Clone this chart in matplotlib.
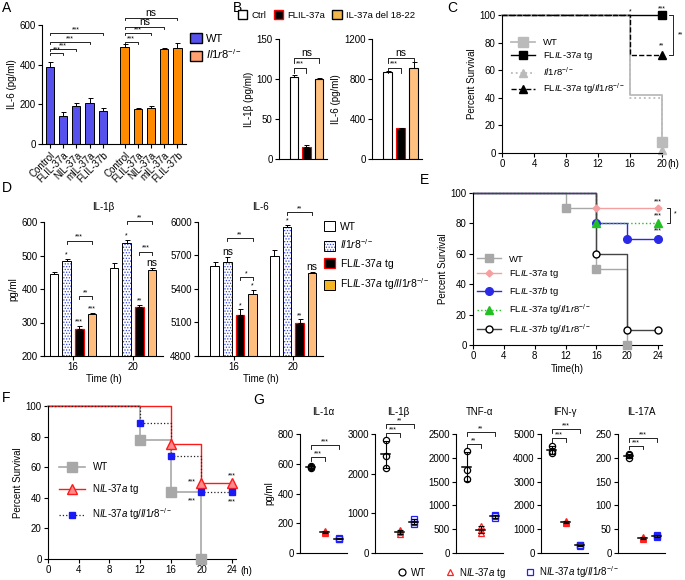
import numpy as np
import matplotlib
matplotlib.use('Agg')
import matplotlib.pyplot as plt
from matplotlib.patches import Patch
from matplotlib.lines import Line2D

# ---------------- data ----------------
# A: IL-6 by construct
a_labels = ['Control', 'FLIL-37a', 'NIL-37a', 'mIL-37a', 'FLIL-37b']
a_wt = [390, 140, 190, 205, 168]
a_wt_err = [25, 20, 15, 25, 12]
a_ko = [490, 175, 180, 480, 485]
a_ko_err = [12, 8, 12, 4, 25]

# B
b_groups = ['Ctrl', 'FLIL-37a', 'IL-37a del 18-22']
b_il1b = [103, 15, 100]
b_il1b_err = [2.5, 2.5, 1]
b_il6 = [870, 305, 910]
b_il6_err = [8, 8, 60]

# C survival
c_wt_t, c_wt_s = [0, 16, 20], [100, 42, 8]
c_fl_t, c_fl_s = [0, 20], [100, 100]
c_ko_t, c_ko_s = [0, 16, 20], [100, 40, 2]
c_flko_t, c_flko_s = [0, 16, 20], [100, 71, 71]

# D
d_times = ['16', '20']
d_il1b_wt, d_il1b_wt_err = [444, 464], [6, 15]
d_il1b_ko, d_il1b_ko_err = [485, 537], [4, 8]
d_il1b_fl, d_il1b_fl_err = [282, 347], [7, 4]
d_il1b_flko, d_il1b_flko_err = [325, 456], [3, 6]
d_il6_wt, d_il6_wt_err = [5606, 5695], [40, 55]
d_il6_ko, d_il6_ko_err = [5642, 5955], [45, 20]
d_il6_fl, d_il6_fl_err = [5167, 5095], [50, 35]
d_il6_flko, d_il6_flko_err = [5355, 5543], [38, 8]

# E survival
e_wt_t, e_wt_s = [0, 12, 16, 20], [100, 90, 50, 0]
e_fla_t, e_fla_s = [0, 16, 24], [100, 90, 90]
e_flb_t, e_flb_s = [0, 16, 20, 24], [100, 80, 70, 70]
e_flako_t, e_flako_s = [0, 16, 24], [100, 80, 80]
e_flbko_t, e_flbko_s = [0, 16, 20, 24], [100, 60, 10, 10]

# F survival
f_wt_t, f_wt_s = [0, 12, 16, 20], [100, 78, 44, 0]
f_nil_t, f_nil_s = [0, 16, 20, 24], [100, 75, 50, 50]
f_nilko_t, f_nilko_s = [0, 12, 16, 20, 24], [100, 89, 67, 44, 44]

# G cytokines (3 mice per group)
g_titles = ['IL-1α', 'IL-1β', 'TNF-α', 'IFN-γ', 'IL-17A']
g_top = [800, 3000, 2500, 5000, 250]
g_step = [200, 1000, 500, 1000, 50]
g_wt = [[575, 582, 570], [2850, 2150, 2450], [2150, 1550, 1750], [4500, 4200, 4300], [207, 200, 205]]
g_nil = [[140, 135, 145], [580, 470, 540], [560, 420, 490], [1300, 1270, 1340], [31, 29, 33]]
g_nilko = [[95, 100, 92], [860, 720, 790], [800, 740, 770], [330, 300, 320], [36, 33, 38]]
g_br = [[645, 726], [3025, 3250], [2290, 2540], [4830, 5210], [225, 241]]
g_br_txt = [['***', '***'], ['***', '**'], ['**', '**'], ['***', '***'], ['***', '***']]

# ---------------- style ----------------
plt.rcParams['font.family'] = ['Liberation Sans', 'DejaVu Sans']
plt.rcParams['font.size'] = 7
plt.rcParams['axes.linewidth'] = 0.8
plt.rcParams['mathtext.fontset'] = 'custom'
plt.rcParams['mathtext.rm'] = 'Liberation Sans'
plt.rcParams['mathtext.it'] = 'Liberation Sans:italic'
plt.rcParams['hatch.linewidth'] = 0.6

KO = r'$\mathit{Il1r8}^{-/-}$'
FLA = r'FL$\mathit{IL}$-$\mathit{37a}$ tg'
FLB = r'FL$\mathit{IL}$-$\mathit{37b}$ tg'
NIL = r'N$\mathit{IL}$-$\mathit{37a}$ tg'

W, H = 685, 580
fig = plt.figure(figsize=(W / 100, H / 100), dpi=100)


def add_ax(l, t, r, b):
    return fig.add_axes([l / W, 1 - b / H, (r - l) / W, (b - t) / H])


def style(ax, fs=7):
    ax.spines['top'].set_visible(False)
    ax.spines['right'].set_visible(False)
    ax.tick_params(width=0.8, length=3, labelsize=fs, pad=1.5)


def bracket(ax, x1, x2, y, h, txt, fs=5):
    ax.plot([x1, x1, x2, x2], [y - h, y, y, y - h], color='k', lw=0.6, clip_on=False)
    if txt == 'ns':
        fs = 7.5
    ax.text((x1 + x2) / 2, y, txt, ha='center', va='bottom', fontsize=fs, clip_on=False)


def star(ax, x, y, txt, fs=5):
    if txt == 'ns':
        fs = 7.5
    ax.text(x, y, txt, ha='center', va='bottom', fontsize=fs, clip_on=False)


def panel(x, y, s):
    fig.text(x / W, 1 - y / H, s, fontsize=10, ha='left', va='top')


def up_err(ax, x, v, e):
    ax.errorbar(x, v, yerr=[np.zeros(len(e)), e], fmt='none', ecolor='k',
                elinewidth=0.7, capsize=1.8, capthick=0.7, clip_on=False)


# ---------------- A ----------------
blue_a, orange_a = '#5650EC', '#FF8A00'
ax = add_ax(42, 25, 186, 144)
style(ax)
pw = np.arange(5)
pk = np.arange(5) + 5.65
ax.bar(pw, a_wt, 0.62, color=blue_a, edgecolor='k', lw=0.7)
ax.bar(pk, a_ko, 0.62, color=orange_a, edgecolor='k', lw=0.7)
up_err(ax, pw, a_wt, a_wt_err)
up_err(ax, pk, a_ko, a_ko_err)
ax.set_xlim(-0.6, 10.3)
ax.set_ylim(0, 600)
ax.set_yticks([0, 200, 400, 600])
ax.set_xticks(np.r_[pw, pk])
ax.set_xticklabels(a_labels * 2, rotation=45, ha='right', rotation_mode='anchor')
ax.set_ylabel('IL-6 (pg/ml)', labelpad=2)
for i, y in zip([1, 2, 3, 4], [457, 479, 514, 558]):
    bracket(ax, pw[0], pw[i], y, 10, '***')
for i, y, t in zip([1, 2, 3, 4], [513, 558, 591, 634], ['***', '***', 'ns', 'ns']):
    bracket(ax, pk[0], pk[i], y, 10, t)
ax.legend([Patch(fc=blue_a, ec='k'), Patch(fc='#FFA070', ec='k')], ['WT', KO],
          loc='upper left', bbox_to_anchor=(1.0, 0.97), frameon=False, fontsize=8,
          handlelength=1.0, handleheight=1.0, handletextpad=0.4, labelspacing=0.35,
          borderaxespad=0)

# ---------------- B ----------------
b_fc = ['white', 'black', '#FFC080']
b_ec = ['k', 'red', 'k']
for (l, r), vals, errs, top, step, yl in [((279, 327), b_il1b, b_il1b_err, 150, 50, 'IL-1β (pg/ml)'),
                                          ((372, 422), b_il6, b_il6_err, 1200, 400, 'IL-6 (pg/ml)')]:
    ax = add_ax(l, 39, r, 159)
    style(ax)
    x = np.arange(3)
    ax.bar(x, vals, 0.7, color=b_fc, edgecolor=b_ec, lw=0.8)
    up_err(ax, x, vals, errs)
    ax.set_xlim(-1.2, 2.65)
    ax.set_ylim(0, top)
    ax.set_yticks(np.arange(0, top + 1, step))
    ax.set_xticks([])
    ax.set_ylabel(yl, labelpad=2)
    bracket(ax, 0, 1, top * 0.76, top * 0.04, '***')
    bracket(ax, 0, 2, top * 0.84, top * 0.04, 'ns')
fig.legend([Patch(fc='white', ec='k'), Patch(fc='black', ec='red'), Patch(fc='#F2B84B', ec='k')],
           b_groups, loc='center left', bbox_to_anchor=(238 / W, 1 - 15 / H), ncol=3,
           frameon=False, fontsize=6.8, handlelength=1.0, handleheight=1.0,
           handletextpad=0.4, columnspacing=0.8, borderaxespad=0, borderpad=0)

# ---------------- C ----------------
ax = add_ax(502, 15, 662, 153)
style(ax)
c_specs = [
    (c_wt_t, c_wt_s, '#BBBBBB', '-', 's', 7, 1.3),
    (c_fl_t, c_fl_s, 'black', '-', 's', 6, 1.0),
    (c_ko_t, c_ko_s, '#BBBBBB', ':', '^', 6, 1.3),
    (c_flko_t, c_flko_s, 'black', '--', '^', 6, 1.0),
]
handles = []
for t, s, col, ls, mk, ms, lw in c_specs:
    ax.step(t, s, where='post', color=col, ls=ls, lw=lw, clip_on=False)
    ax.plot(t[-1], s[-1], mk, color=col, ms=ms, clip_on=False)
    handles.append(Line2D([], [], color=col, ls=ls, lw=lw, marker=mk, ms=ms))
ax.set_xlim(0, 20)
ax.set_ylim(0, 100)
ax.set_xticks(np.arange(0, 21, 4))
ax.set_yticks(np.arange(0, 101, 20))
ax.set_ylabel('Percent Survival', labelpad=2)
ax.text(20.7, -0.045, '(h)', transform=ax.get_xaxis_transform(), ha='left', va='top', fontsize=7)
star(ax, 16, 100, '*')
star(ax, 20, 102, '***')
star(ax, 20, 75, '**')
ax.plot([20.9, 21.4, 21.4, 20.9], [100, 100, 71, 71], color='k', lw=0.6, clip_on=False)
ax.text(22.0, 85.5, '**', fontsize=5, ha='left', va='center')
ax.legend(handles, ['WT', FLA, KO, FLA[:-3] + ' tg/' + KO], loc='upper left',
          bbox_to_anchor=(0.03, 0.86), frameon=False, fontsize=6.8, handlelength=2.6,
          labelspacing=0.35, borderaxespad=0)

# ---------------- D ----------------
off = np.array([-1.5, -0.5, 0.5, 1.5]) * 0.212
bw = 0.145
dot_blue = '#3344DD'
d_orange = '#FFBE7D'
d_sets = [
    ((44, 163), (200, 600, 100), 'IL-1β',
     [d_il1b_wt, d_il1b_ko, d_il1b_fl, d_il1b_flko],
     [d_il1b_wt_err, d_il1b_ko_err, d_il1b_fl_err, d_il1b_flko_err], (-0.483, 1.5)),
    ((198, 323), (4800, 6000, 300), 'IL-6',
     [d_il6_wt, d_il6_ko, d_il6_fl, d_il6_flko],
     [d_il6_wt_err, d_il6_ko_err, d_il6_fl_err, d_il6_flko_err], (-0.6, 1.5)),
]
d_axes = []
for (l, r), (lo, hi, st), title, vals, errs, xl in d_sets:
    ax = add_ax(l, 222, r, 356)
    style(ax)
    g = np.arange(2)
    ax.bar(g + off[0], np.array(vals[0]) - lo, bw, bottom=lo, color='white', edgecolor='k', lw=0.7)
    ax.bar(g + off[1], np.array(vals[1]) - lo, bw, bottom=lo, color='white', edgecolor=dot_blue,
           hatch='......', lw=0)
    ax.bar(g + off[1], np.array(vals[1]) - lo, bw, bottom=lo, fill=False, edgecolor='k', lw=0.7)
    ax.bar(g + off[2], np.array(vals[2]) - lo, bw, bottom=lo, color='black', edgecolor='red', lw=0.9)
    ax.bar(g + off[3], np.array(vals[3]) - lo, bw, bottom=lo, color=d_orange, edgecolor='k', lw=0.7)
    for k in range(4):
        up_err(ax, g + off[k], vals[k], errs[k])
    ax.set_xlim(*xl)
    ax.set_ylim(lo, hi)
    ax.set_yticks(np.arange(lo, hi + 1, st))
    ax.set_xticks(g)
    ax.set_xticklabels(d_times)
    ax.set_xlabel('Time (h)', fontsize=7, labelpad=1)
    ax.set_title(title, fontsize=7, pad=9)
    d_axes.append(ax)
d_axes[0].set_ylabel('pg/ml', labelpad=2)

ax = d_axes[0]
star(ax, off[1], 490, '*')
star(ax, off[2], 291, '***')
star(ax, off[3], 330, '***')
star(ax, 1 + off[1], 547, '*')
star(ax, 1 + off[2], 353, '**')
star(ax, 1 + off[3], 463, 'ns')
bracket(ax, off[1], off[3], 544, 10, '***')
bracket(ax, off[2], off[3], 379, 10, '**')
bracket(ax, 1 + off[1], 1 + off[3], 603, 10, '**')
bracket(ax, 1 + off[2], 1 + off[3], 511, 10, '***')

ax = d_axes[1]
star(ax, off[1], 5688, 'ns')
star(ax, off[2], 5219, '*')
star(ax, off[3], 5395, '*')
star(ax, 1 + off[1], 5977, '*')
star(ax, 1 + off[2], 5132, '**')
star(ax, 1 + off[3], 5553, 'ns')
bracket(ax, off[1], off[3], 5857, 30, '**')
bracket(ax, off[2], off[3], 5507, 30, '*')
bracket(ax, 1 + off[1], 1 + off[3], 6090, 30, '**')

d_handles = [Patch(fc='white', ec='k', lw=0.7),
             (Patch(fc='white', ec=dot_blue, hatch='......', lw=0), Patch(fill=False, ec='k', lw=0.7)),
             Patch(fc='black', ec='red', lw=0.9),
             Patch(fc='#F5B520', ec='k', lw=0.7)]
fig.legend(d_handles, ['WT', KO, FLA, FLA + '/' + KO], loc='upper left',
           bbox_to_anchor=(324 / W, 1 - 221 / H), frameon=False, fontsize=7.5,
           handlelength=1.1, handleheight=1.1, handletextpad=0.4, labelspacing=0.55,
           borderaxespad=0, borderpad=0)

# ---------------- E ----------------
ax = add_ax(473, 193, 662, 345)
style(ax)
e_specs = [
    (e_wt_t, e_wt_s, '#A8A8A8', '-', 's', 5.5, '#A8A8A8', 1.0, 'WT'),
    (e_fla_t, e_fla_s, '#F4A0A0', '-', 'D', 3.5, '#F4A0A0', 1.0, FLA),
    (e_flb_t, e_flb_s, '#2A2AE6', '-', 'o', 5.5, '#2A2AE6', 1.0, FLB),
    (e_flako_t, e_flako_s, '#22C022', ':', '^', 6, '#22C022', 1.0, FLA + '/' + KO),
    (e_flbko_t, e_flbko_s, '#444444', '-', 'o', 5, 'white', 1.0, FLB + '/' + KO),
]
handles, labels = [], []
for t, s, col, ls, mk, ms, mfc, lw, lab in e_specs:
    ax.step(t, s, where='post', color=col, ls=ls, lw=lw, clip_on=False)
    mec = 'black' if mfc == 'white' else col
    ax.plot(t[1:], s[1:], mk, color=col, mfc=mfc, mec=mec, ms=ms, clip_on=False, zorder=3)
    handles.append(Line2D([], [], color=col, ls=ls, lw=lw, marker=mk, ms=ms, mfc=mfc, mec=mec))
    labels.append(lab)
ax.set_xlim(0, 24.5)
ax.set_ylim(0, 100)
ax.set_xticks(np.arange(0, 25, 4))
ax.set_yticks(np.arange(0, 101, 20))
ax.set_xlabel('Time(h)', fontsize=7, labelpad=2)
ax.set_ylabel('Percent Survival', labelpad=2)
star(ax, 24, 92, '***')
star(ax, 24, 82.5, '***')
star(ax, 24, 72.5, '***')
ax.plot([25.2, 25.6, 25.6, 25.2], [90, 90, 80, 80], color='k', lw=0.6, clip_on=False)
ax.text(26.0, 86, '*', fontsize=5, ha='left', va='center')
ax.legend(handles, labels, loc='upper left', bbox_to_anchor=(0.0, 0.62), frameon=False,
          fontsize=6.8, handlelength=2.6, labelspacing=0.5, borderaxespad=0)

# ---------------- F ----------------
ax = add_ax(48, 406, 236, 559)
style(ax)
f_specs = [
    (f_wt_t, f_wt_s, '#A8A8A8', '-', 1.2, 's', 7, '#A8A8A8', '#A8A8A8', 'WT'),
    (f_nil_t, f_nil_s, '#FF1A1A', '-', 1.0, '^', 6.5, '#FF8A8A', '#FF1A1A', NIL),
    (f_nilko_t, f_nilko_s, '#222222', ':', 0.9, 's', 5, '#1A1AF5', '#1A1AF5', NIL + '/' + KO),
]
handles, labels = [], []
for t, s, col, ls, lw, mk, ms, mfc, mec, lab in f_specs:
    ax.step(t, s, where='post', color=col, ls=ls, lw=lw, clip_on=False)
    ax.plot(t[1:], s[1:], mk, ms=ms, mfc=mfc, mec=mec, mew=1.0, clip_on=False, zorder=3)
    handles.append(Line2D([], [], color=col, ls=ls, lw=lw, marker=mk, ms=ms, mfc=mfc, mec=mec))
    labels.append(lab)
ax.set_xlim(0, 24.5)
ax.set_ylim(0, 100)
ax.set_xticks(np.arange(0, 25, 4))
ax.set_yticks(np.arange(0, 101, 20))
ax.set_ylabel('Percent Survival', labelpad=2)
ax.text(25.1, -0.045, '(h)', transform=ax.get_xaxis_transform(), ha='left', va='top', fontsize=7)
star(ax, 18.8, 48, '***')
star(ax, 18.8, 36, '***')
star(ax, 24, 52, '***')
star(ax, 24, 35, '***')
ax.legend(handles, labels, loc='upper left', bbox_to_anchor=(0.04, 0.66), frameon=False,
          fontsize=7, handlelength=2.6, labelspacing=1.05, borderaxespad=0)

# ---------------- G ----------------
g_left = [300, 375, 456, 541, 618]
g_groups = [('o', 'black'), ('^', '#FF2020'), ('s', '#2020FF')]
for i in range(5):
    ax = add_ax(g_left[i], 434, g_left[i] + 47, 553)
    style(ax)
    for j, pts in enumerate([g_wt[i], g_nil[i], g_nilko[i]]):
        mk, col = g_groups[j]
        ax.plot([j] * len(pts), pts, mk, ms=4.5, mfc='none', mec=col, mew=0.9, clip_on=False)
        m, sd = np.mean(pts), np.std(pts, ddof=1)
        ax.errorbar(j, m, yerr=sd, fmt='none', ecolor='k', elinewidth=0.8, capsize=2,
                    capthick=0.8, clip_on=False)
        ax.plot([j - 0.35, j + 0.35], [m, m], color='k', lw=1.1)
    ax.set_xlim(-0.75, 2.6)
    ax.set_ylim(0, g_top[i])
    ax.set_yticks(np.arange(0, g_top[i] + 1, g_step[i]))
    ax.set_xticks([])
    ax.set_title(g_titles[i], fontsize=7, pad=14)
    h = g_top[i] * 0.03
    bracket(ax, 0, 1, g_br[i][0], h, g_br_txt[i][0])
    bracket(ax, 0, 2, g_br[i][1], h, g_br_txt[i][1])
    if i == 0:
        ax.set_ylabel('pg/ml', labelpad=2)

g_handles = [Line2D([], [], ls='none', marker=mk, ms=5, mfc='none', mec=col, mew=0.9)
             for mk, col in g_groups]
fig.legend(g_handles, ['WT', NIL, NIL + '/' + KO], loc='center left',
           bbox_to_anchor=(397 / W, 1 - 572 / H), ncol=3, frameon=False, fontsize=7,
           handlelength=1.0, handletextpad=0.4, columnspacing=2.0, borderaxespad=0, borderpad=0)

# panel letters
panel(2, 1, 'A')
panel(233, 1, 'B')
panel(447, 1, 'C')
panel(2, 181, 'D')
panel(420, 173, 'E')
panel(2, 391, 'F')
panel(253, 393, 'G')

fig.savefig('out.png', dpi=100)
